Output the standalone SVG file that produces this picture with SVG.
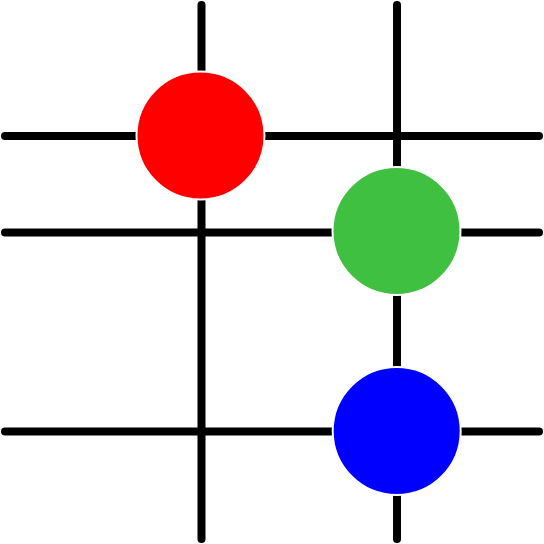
<svg xmlns="http://www.w3.org/2000/svg" width="544" height="544" viewBox="0 0 544 544">
<style>
.ln{stroke:#000;stroke-width:8;stroke-linecap:round;fill:none}
.nd{stroke:#fff;stroke-width:2}
</style>
<rect width="544" height="544" fill="#fff"/>
<g id="connectors">
<line class="ln" x1="201.5" y1="5" x2="201.5" y2="539"/>
<line class="ln" x1="397" y1="5" x2="397" y2="539"/>
<line class="ln" x1="5" y1="136" x2="539" y2="136"/>
<line class="ln" x1="5" y1="232.5" x2="539" y2="232.5"/>
<line class="ln" x1="5" y1="431.5" x2="539" y2="431.5"/>
</g>
<g id="red"><circle class="nd" cx="200.5" cy="135.5" r="64" fill="#ff0000"/></g>
<g id="green"><circle class="nd" cx="396.5" cy="231" r="64" fill="#40c040"/></g>
<g id="blue"><circle class="nd" cx="396.7" cy="431" r="64" fill="#0000ff"/></g>
</svg>
